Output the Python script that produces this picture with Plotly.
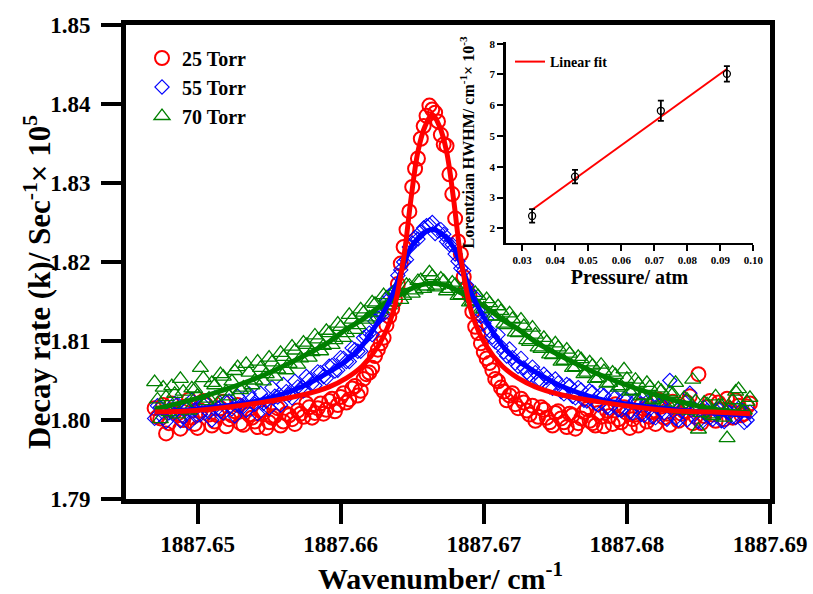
import plotly.graph_objects as go

# ---------------- data ----------------
wavenumber = [1887.6470, 1887.6474, 1887.6478, 1887.6482, 1887.6486, 1887.6490, 1887.6494, 1887.6498,
              1887.6502, 1887.6506, 1887.6510, 1887.6514, 1887.6518, 1887.6522, 1887.6526, 1887.6530,
              1887.6534, 1887.6538, 1887.6542, 1887.6546, 1887.6550, 1887.6554, 1887.6558, 1887.6562,
              1887.6566, 1887.6570, 1887.6574, 1887.6578, 1887.6582, 1887.6586, 1887.6590, 1887.6594,
              1887.6598, 1887.6602, 1887.6606, 1887.6610, 1887.6614, 1887.6618, 1887.6622, 1887.6626,
              1887.6630, 1887.6634, 1887.6638, 1887.6642, 1887.6646, 1887.6650, 1887.6654, 1887.6658,
              1887.6662, 1887.6666, 1887.6670, 1887.6674, 1887.6678, 1887.6682, 1887.6686, 1887.6690,
              1887.6694, 1887.6698, 1887.6702, 1887.6706, 1887.6710, 1887.6714, 1887.6718, 1887.6722,
              1887.6726, 1887.6730, 1887.6734, 1887.6738, 1887.6742, 1887.6746, 1887.6750, 1887.6754,
              1887.6758, 1887.6762, 1887.6766, 1887.6770, 1887.6774, 1887.6778, 1887.6782, 1887.6786,
              1887.6790, 1887.6794, 1887.6798, 1887.6802, 1887.6806, 1887.6810, 1887.6814, 1887.6818,
              1887.6822, 1887.6826, 1887.6830, 1887.6834, 1887.6838, 1887.6842, 1887.6846, 1887.6850,
              1887.6854, 1887.6858, 1887.6862, 1887.6866, 1887.6870, 1887.6874, 1887.6878, 1887.6882,
              1887.6886]

wavenumber_mid = [1887.6472, 1887.6476, 1887.6480, 1887.6484, 1887.6488, 1887.6492, 1887.6496, 1887.6500,
                  1887.6504, 1887.6508, 1887.6512, 1887.6516, 1887.6520, 1887.6524, 1887.6528, 1887.6532,
                  1887.6536, 1887.6540, 1887.6544, 1887.6548, 1887.6552, 1887.6556, 1887.6560, 1887.6564,
                  1887.6568, 1887.6572, 1887.6576, 1887.6580, 1887.6584, 1887.6588, 1887.6592, 1887.6596,
                  1887.6600, 1887.6604, 1887.6608, 1887.6612, 1887.6616, 1887.6620, 1887.6624, 1887.6628,
                  1887.6632, 1887.6636, 1887.6640, 1887.6644, 1887.6648, 1887.6652, 1887.6656, 1887.6660,
                  1887.6664, 1887.6668, 1887.6672, 1887.6676, 1887.6680, 1887.6684, 1887.6688, 1887.6692,
                  1887.6696, 1887.6700, 1887.6704, 1887.6708, 1887.6712, 1887.6716, 1887.6720, 1887.6724,
                  1887.6728, 1887.6732, 1887.6736, 1887.6740, 1887.6744, 1887.6748, 1887.6752, 1887.6756,
                  1887.6760, 1887.6764, 1887.6768, 1887.6772, 1887.6776, 1887.6780, 1887.6784, 1887.6788,
                  1887.6792, 1887.6796, 1887.6800, 1887.6804, 1887.6808, 1887.6812, 1887.6816, 1887.6820,
                  1887.6824, 1887.6828, 1887.6832, 1887.6836, 1887.6840, 1887.6844, 1887.6848, 1887.6852,
                  1887.6856, 1887.6860, 1887.6864, 1887.6868, 1887.6872, 1887.6876, 1887.6880, 1887.6884]

k_25torr = [1.8015, 1.8002, 1.7983, 1.8021, 1.8008, 1.8000, 1.8026, 1.7995, 1.8012, 1.8019,
            1.7993, 1.8006, 1.8023, 1.8001, 1.8011, 1.7996, 1.8014, 1.8003, 1.7991, 1.8009,
            1.7997, 1.8005, 1.7993, 1.8008, 1.8001, 1.8012, 1.8004, 1.8016, 1.8009, 1.8021,
            1.8013, 1.8027, 1.8019, 1.8034, 1.8026, 1.8043, 1.8037, 1.8058, 1.8066, 1.8089,
            1.8104, 1.8131, 1.8152, 1.8198, 1.8241, 1.8295, 1.8331, 1.8372, 1.8398, 1.8389,
            1.8361, 1.8347, 1.8286, 1.8226, 1.8181, 1.8158, 1.8118, 1.8097, 1.8078, 1.8063,
            1.8049, 1.8036, 1.8031, 1.8020, 1.8027, 1.8012, 1.8018, 1.8004, 1.8013, 1.7997,
            1.8009, 1.8002, 1.7991, 1.8006, 1.7996, 1.8010, 1.7999, 1.7993, 1.8004, 1.8012,
            1.7995, 1.8001, 1.8016, 1.7990, 1.8007, 1.8019, 1.7998, 1.8010, 1.8026, 1.8003,
            1.7994, 1.8015, 1.8008, 1.8022, 1.7996, 1.8058, 1.8005, 1.8024, 1.7999, 1.8013,
            1.8027, 1.8003, 1.8018, 1.8008, 1.8021]
k_25torr_mid = [1.8004, 1.8019, 1.7996, 1.8010, 1.7989, 1.8017, 1.8003, 1.7990, 1.8024, 1.8007,
                1.7998, 1.8015, 1.7992, 1.8006, 1.8019, 1.7994, 1.8007, 1.7998, 1.8012, 1.7990,
                1.8003, 1.8015, 1.7998, 1.8006, 1.7995, 1.8008, 1.8021, 1.8003, 1.8015, 1.8008,
                1.8024, 1.8011, 1.8029, 1.8022, 1.8040, 1.8031, 1.8052, 1.8060, 1.8081, 1.8097,
                1.8120, 1.8141, 1.8172, 1.8219, 1.8264, 1.8318, 1.8356, 1.8385, 1.8393, 1.8378,
                1.8349, 1.8311, 1.8255, 1.8210, 1.8166, 1.8137, 1.8110, 1.8086, 1.8072, 1.8052,
                1.8041, 1.8025, 1.8034, 1.8015, 1.8022, 1.8007, 1.7999, 1.8016, 1.8003, 1.7993,
                1.8011, 1.7997, 1.8008, 1.7989, 1.8002, 1.8014, 1.7996, 1.8009, 1.7992, 1.8005,
                1.8020, 1.7997, 1.8009, 1.8001, 1.7993, 1.8014, 1.8004, 1.7995, 1.8017, 1.8008,
                1.8023, 1.7999, 1.8011, 1.8030, 1.8004, 1.7996, 1.8016, 1.8007, 1.8022, 1.8001,
                1.8014, 1.8025, 1.8006, 1.8017]

k_55torr = [1.8002, 1.8016, 1.7998, 1.8011, 1.8020, 1.8004, 1.7996, 1.8013, 1.8007, 1.8022,
            1.8000, 1.8015, 1.8009, 1.8024, 1.8005, 1.8018, 1.8012, 1.8027, 1.8008, 1.8021,
            1.8015, 1.8030, 1.8019, 1.8036, 1.8028, 1.8042, 1.8037, 1.8051, 1.8044, 1.8060,
            1.8053, 1.8069, 1.8063, 1.8078, 1.8074, 1.8089, 1.8087, 1.8106, 1.8108, 1.8129,
            1.8134, 1.8157, 1.8163, 1.8190, 1.8203, 1.8224, 1.8229, 1.8243, 1.8247, 1.8236,
            1.8241, 1.8226, 1.8222, 1.8201, 1.8189, 1.8162, 1.8155, 1.8131, 1.8128, 1.8105,
            1.8108, 1.8086, 1.8090, 1.8072, 1.8078, 1.8060, 1.8067, 1.8050, 1.8058, 1.8042,
            1.8052, 1.8036, 1.8045, 1.8030, 1.8041, 1.8025, 1.8037, 1.8021, 1.8033, 1.8016,
            1.8030, 1.8013, 1.8027, 1.8010, 1.8025, 1.8007, 1.8023, 1.8004, 1.8019, 1.8009,
            1.8050, 1.8002, 1.8017, 1.8000, 1.8014, 1.7998, 1.8016, 1.8003, 1.8012, 1.7999,
            1.8011, 1.8004, 1.8015, 1.7997, 1.8010]
k_55torr_mid = [1.8018, 1.8003, 1.8009, 1.8021, 1.7999, 1.8014, 1.8025, 1.8006, 1.8019, 1.8010,
                1.8028, 1.8011, 1.8023, 1.8014, 1.8030, 1.8017, 1.8033, 1.8020, 1.8034, 1.8024,
                1.8041, 1.8029, 1.8045, 1.8032, 1.8049, 1.8040, 1.8055, 1.8046, 1.8061, 1.8055,
                1.8068, 1.8062, 1.8079, 1.8074, 1.8091, 1.8087, 1.8104, 1.8110, 1.8125, 1.8134,
                1.8150, 1.8161, 1.8183, 1.8200, 1.8219, 1.8231, 1.8238, 1.8246, 1.8250, 1.8239,
                1.8235, 1.8222, 1.8210, 1.8192, 1.8171, 1.8151, 1.8139, 1.8122, 1.8113, 1.8099,
                1.8093, 1.8081, 1.8079, 1.8068, 1.8066, 1.8057, 1.8060, 1.8049, 1.8054, 1.8040,
                1.8047, 1.8033, 1.8043, 1.8028, 1.8038, 1.8024, 1.8035, 1.8019, 1.8031, 1.8015,
                1.8029, 1.8012, 1.8026, 1.8009, 1.8024, 1.8006, 1.8021, 1.8003, 1.8020, 1.8001,
                1.8018, 1.8000, 1.8016, 1.8034, 1.8013, 1.7997, 1.8012, 1.8001, 1.8014, 1.7998,
                1.8009, 1.8003, 1.8013, 1.8000]

k_70torr = [1.8048, 1.8001, 1.8029, 1.8043, 1.8007, 1.8036, 1.8012, 1.8039, 1.8066, 1.8024,
            1.8047, 1.8021, 1.8055, 1.8030, 1.8062, 1.8038, 1.8071, 1.8044, 1.8074, 1.8049,
            1.8079, 1.8055, 1.8085, 1.8063, 1.8093, 1.8070, 1.8098, 1.8079, 1.8107, 1.8087,
            1.8113, 1.8095, 1.8122, 1.8104, 1.8133, 1.8114, 1.8140, 1.8127, 1.8149, 1.8136,
            1.8158, 1.8145, 1.8164, 1.8152, 1.8171, 1.8160, 1.8176, 1.8166, 1.8187, 1.8168,
            1.8179, 1.8163, 1.8174, 1.8157, 1.8168, 1.8149, 1.8161, 1.8140, 1.8153, 1.8131,
            1.8144, 1.8122, 1.8135, 1.8111, 1.8127, 1.8101, 1.8117, 1.8092, 1.8104, 1.8083,
            1.8097, 1.8074, 1.8089, 1.8066, 1.8080, 1.8058, 1.8073, 1.8052, 1.8070, 1.8046,
            1.8060, 1.8041, 1.8064, 1.8036, 1.8051, 1.8030, 1.8047, 1.8025, 1.8040, 1.8021,
            1.8035, 1.8047, 1.8013, 1.8026, 1.8051, 1.7988, 1.8022, 1.8007, 1.8030, 1.8018,
            1.7977, 1.8025, 1.8039, 1.8012, 1.8028]
k_70torr_mid = [1.8026, 1.8041, 1.8010, 1.8033, 1.8052, 1.8019, 1.8040, 1.8031, 1.8053, 1.8027,
                1.8044, 1.8058, 1.8036, 1.8049, 1.8067, 1.8041, 1.8060, 1.8050, 1.8066, 1.8058,
                1.8073, 1.8064, 1.8080, 1.8071, 1.8088, 1.8078, 1.8095, 1.8086, 1.8102, 1.8094,
                1.8110, 1.8101, 1.8118, 1.8110, 1.8127, 1.8120, 1.8136, 1.8130, 1.8147, 1.8140,
                1.8155, 1.8149, 1.8162, 1.8157, 1.8170, 1.8164, 1.8177, 1.8169, 1.8182, 1.8170,
                1.8176, 1.8166, 1.8171, 1.8158, 1.8164, 1.8150, 1.8157, 1.8141, 1.8148, 1.8131,
                1.8138, 1.8120, 1.8128, 1.8110, 1.8119, 1.8099, 1.8108, 1.8090, 1.8099, 1.8082,
                1.8092, 1.8075, 1.8084, 1.8067, 1.8077, 1.8060, 1.8069, 1.8053, 1.8062, 1.8047,
                1.8057, 1.8043, 1.8052, 1.8037, 1.8046, 1.8031, 1.8042, 1.8027, 1.8037, 1.8022,
                1.8033, 1.8016, 1.8028, 1.8012, 1.8024, 1.8009, 1.8020, 1.8005, 1.8018, 1.8003,
                1.8016, 1.8036, 1.8010, 1.8023]

fit_wavenumber = [1887.6470, 1887.6499, 1887.6544, 1887.6574, 1887.6592, 1887.6604, 1887.6615,
                  1887.6626, 1887.6636, 1887.6644, 1887.6649, 1887.6654, 1887.6659, 1887.6664,
                  1887.6669, 1887.6674, 1887.6679, 1887.6684, 1887.6692, 1887.6702, 1887.6713,
                  1887.6724, 1887.6736, 1887.6754, 1887.6784, 1887.6829, 1887.6860, 1887.6886]
fit_25torr = [1.8010, 1.8012, 1.8022, 1.8032, 1.8042, 1.8053, 1.8068, 1.8093, 1.8133, 1.8205,
              1.8278, 1.8340, 1.8372, 1.8386, 1.8372, 1.8340, 1.8278, 1.8205, 1.8133, 1.8093,
              1.8068, 1.8053, 1.8042, 1.8032, 1.8022, 1.8012, 1.8010, 1.8008]
fit_55torr = [1.8009, 1.8014, 1.8025, 1.8043, 1.8061, 1.8075, 1.8094, 1.8124, 1.8158, 1.8197,
              1.8218, 1.8230, 1.8238, 1.8241, 1.8238, 1.8230, 1.8218, 1.8197, 1.8158, 1.8124,
              1.8094, 1.8075, 1.8061, 1.8043, 1.8025, 1.8014, 1.8009, 1.8006]
fit_70torr = [1.8014, 1.8027, 1.8055, 1.8081, 1.8099, 1.8115, 1.8127, 1.8142, 1.8153, 1.8161,
              1.8166, 1.8170, 1.8172, 1.8173, 1.8172, 1.8170, 1.8166, 1.8161, 1.8153, 1.8142,
              1.8127, 1.8115, 1.8099, 1.8081, 1.8055, 1.8027, 1.8014, 1.8009]

# inset: Lorentzian HWHM vs pressure
pressure_atm = [0.033, 0.046, 0.072, 0.092]
hwhm = [2.40, 3.68, 5.82, 7.02]
hwhm_err = [0.22, 0.22, 0.33, 0.25]
linfit_p = [0.033, 0.092]
linfit_hwhm = [2.60, 7.18]

series_names = ["25 Torr", "55 Torr", "70 Torr"]
x_ticks = [1887.65, 1887.66, 1887.67, 1887.68, 1887.69]
y_ticks = [1.79, 1.80, 1.81, 1.82, 1.83, 1.84, 1.85]
inset_x_ticks = [0.03, 0.04, 0.05, 0.06, 0.07, 0.08, 0.09, 0.10]
inset_y_ticks = [2, 3, 4, 5, 6, 7, 8]

# ---------------- figure ----------------
FONT = "Liberation Serif"
RED, BLUE, GREEN = "#ff0000", "#0000ff", "#008000"

fig = go.Figure()

fig.add_trace(go.Scatter(x=wavenumber + wavenumber_mid, y=k_25torr + k_25torr_mid, mode="markers",
                         name=series_names[0],
                         marker=dict(symbol="circle-open", size=14, color=RED, line=dict(width=2, color=RED))))
fig.add_trace(go.Scatter(x=wavenumber + wavenumber_mid, y=k_55torr + k_55torr_mid, mode="markers",
                         name=series_names[1],
                         marker=dict(symbol="diamond-open", size=11, color=BLUE, line=dict(width=1.1, color=BLUE))))
fig.add_trace(go.Scatter(x=wavenumber + wavenumber_mid, y=k_70torr + k_70torr_mid, mode="markers",
                         name=series_names[2],
                         marker=dict(symbol="triangle-up-open", size=14, color=GREEN, line=dict(width=1.3, color=GREEN))))

fig.add_trace(go.Scatter(x=fit_wavenumber, y=fit_70torr, mode="lines", showlegend=False,
                         line=dict(color=GREEN, width=5, shape="spline")))
fig.add_trace(go.Scatter(x=fit_wavenumber, y=fit_55torr, mode="lines", showlegend=False,
                         line=dict(color=BLUE, width=5, shape="spline")))
fig.add_trace(go.Scatter(x=fit_wavenumber, y=fit_25torr, mode="lines", showlegend=False,
                         line=dict(color=RED, width=5, shape="spline")))

# inset
fig.add_trace(go.Scatter(x=linfit_p, y=linfit_hwhm, mode="lines", name="Linear fit",
                         line=dict(color=RED, width=2), xaxis="x2", yaxis="y2", legend="legend2"))
fig.add_trace(go.Scatter(x=pressure_atm, y=hwhm, mode="markers", showlegend=False,
                         marker=dict(symbol="circle-open", size=7, color="black", line=dict(width=1.3, color="black")),
                         error_y=dict(type="data", array=hwhm_err, color="black", thickness=1.8, width=3),
                         xaxis="x2", yaxis="y2"))

W, H = 813, 594
L, R, T, B = 126, 43, 25, 95
pw, ph = W - L - R, H - T - B


def px_x(p):
    return (p - L) / pw


def px_y(p):
    return (H - B - p) / ph


main_axis = dict(showline=True, linewidth=5, linecolor="black", mirror=True,
                 ticks="outside", ticklen=20, tickwidth=4, tickcolor="black",
                 showgrid=False, zeroline=False, automargin=False,
                 tickfont=dict(family=FONT, size=23, weight="bold", color="black"))
inset_axis = dict(showline=True, linewidth=2.5, linecolor="black", mirror=False,
                  ticks="outside", ticklen=6, tickwidth=2, tickcolor="black",
                  showgrid=False, zeroline=False, automargin=False,
                  tickfont=dict(family=FONT, size=11, weight="bold", color="black"))

fig.update_layout(
    template="simple_white",
    width=W, height=H,
    margin=dict(l=L, r=R, t=T, b=B, autoexpand=False),
    paper_bgcolor="white", plot_bgcolor="white",
    font=dict(family=FONT, color="black"),
    showlegend=True,
    legend=dict(x=px_x(142), y=px_y(87), xanchor="left", yanchor="middle",
                bgcolor="rgba(0,0,0,0)", tracegroupgap=0,
                font=dict(family=FONT, size=20, weight="bold", color="black")),
    legend2=dict(x=px_x(510), y=px_y(62), xanchor="left", yanchor="middle",
                 bgcolor="rgba(0,0,0,0)",
                 font=dict(family=FONT, size=14, weight="bold", color="black")),
    xaxis=dict(main_axis, range=[1887.645, 1887.69], tickvals=x_ticks, tickformat=".2f",
               ticklabelstandoff=0),
    yaxis=dict(main_axis, range=[1.79, 1.85], tickvals=y_ticks, tickformat=".2f",
               ticklabelstandoff=6),
    xaxis2=dict(inset_axis, domain=[px_x(505.7), px_x(753.3)], anchor="y2", range=[0.025, 0.100],
                tickvals=inset_x_ticks, tickformat=".2f",
                title=dict(text="Pressure/ atm", standoff=4,
                           font=dict(family=FONT, size=20, weight="bold", color="black"))),
    yaxis2=dict(inset_axis, domain=[px_y(242.7), px_y(42.2)], anchor="x2", range=[1.53, 8.05],
                tickvals=inset_y_ticks,
                title=dict(text="Lorentzian HWHM/ cm<sup>-1</sup>× 10<sup>-3</sup>", standoff=11,
                           font=dict(family=FONT, size=16, weight="bold", color="black"))),
    annotations=[
        dict(text="Wavenumber/ cm<sup>-1</sup>", xref="paper", yref="paper",
             x=px_x(440), y=px_y(576), xanchor="center", yanchor="middle", showarrow=False,
             font=dict(family=FONT, size=30, weight="bold", color="black")),
        dict(text="Decay rate (k)/ Sec<sup>-1</sup>× 10<sup>5</sup>", xref="paper", yref="paper",
             x=px_x(38), y=px_y(282), xanchor="center", yanchor="middle", showarrow=False,
             textangle=-90, font=dict(family=FONT, size=31, weight="bold", color="black")),
    ],
)

fig.write_html("out.html",
               config={"displayModeBar": False, "staticPlot": True},
               post_script="document.body.style.margin='0px';document.body.style.overflow='hidden';")
